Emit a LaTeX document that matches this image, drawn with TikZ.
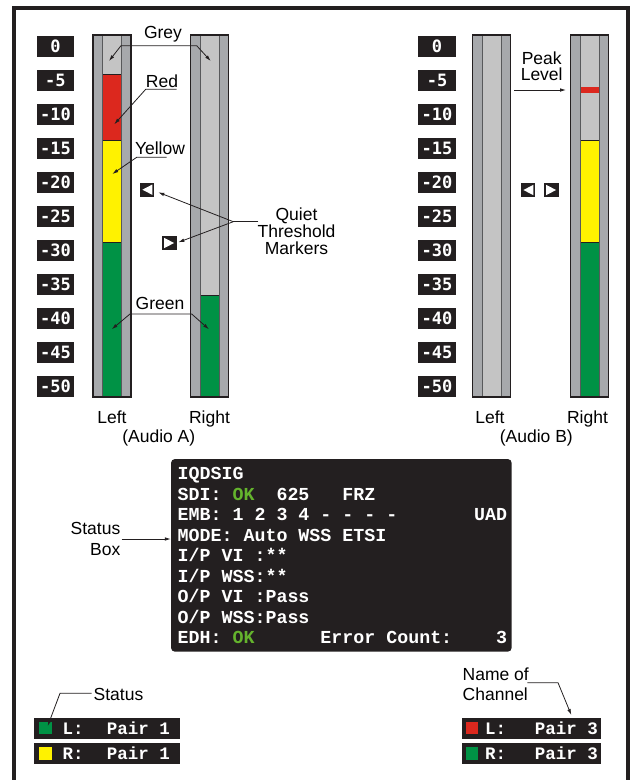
\documentclass[tikz,border=0pt]{standalone}
\usepackage{fontspec}
\setmainfont{Liberation Sans}
\newfontfamily\courfont{Liberation Mono}
\newfontfamily\dvmono{DejaVu Sans Mono}
\usetikzlibrary{arrows.meta}
\definecolor{mgrey}{HTML}{A7A9AC}
\definecolor{lgrey}{HTML}{C4C4C4}
\definecolor{mred}{HTML}{DC281E}
\definecolor{myellow}{HTML}{FFF200}
\definecolor{mgreen}{HTML}{009245}
\definecolor{boxblack}{HTML}{231F20}
\definecolor{okgreen}{HTML}{64B42D}
\definecolor{innerline}{HTML}{58595B}
\newcommand{\ms}{\hspace*{0.6em}}
\tikzset{
  lbl/.style={font=\fontsize{17.5}{17}\selectfont, inner sep=0pt, anchor=base},
  lead/.style={draw=boxblack, line width=0.8pt},
  arr/.style={lead, -{Latex[length=6pt,width=3.6pt]}},
  arrboth/.style={lead, {Latex[length=6pt,width=3.6pt]}-{Latex[length=6pt,width=3.6pt]}},
  scalelbl/.style={fill=boxblack, text=white, minimum width=37.3pt, minimum height=20.7pt,
    inner sep=0pt, text height=12.4pt, text depth=0pt,
    font=\dvmono\bfseries\fontsize{17}{17}\selectfont},
  statline/.style={anchor=base west, inner sep=0pt, text=white,
    font=\courfont\bfseries\fontsize{18.3}{18.3}\selectfont},
  chiptxt/.style={inner sep=0pt, text=white,
    font=\courfont\bfseries\fontsize{17.5}{17.5}\selectfont},
  chipbox/.style={fill=boxblack, inner sep=0pt, minimum height=21pt},
  segment/.style={draw=boxblack, line width=0.6pt},
}
\newcommand{\markerleft}[2]{%
  \fill[boxblack] (#1-7.2,#2-7) rectangle (#1+7.2,#2+7);
  \fill[white] (#1-4.6,#2) -- (#1+5.4,#2-5.2) -- (#1+5.4,#2+5.2) -- cycle;}
\newcommand{\markerright}[2]{%
  \fill[boxblack] (#1-7.2,#2-7) rectangle (#1+7.2,#2+7);
  \fill[white] (#1+4.6,#2) -- (#1-5.4,#2-5.2) -- (#1-5.4,#2+5.2) -- cycle;}
\begin{document}
\begin{tikzpicture}[x=1pt,y=-1pt]
\useasboundingbox (0,0) rectangle (634,780);
\fill[white] (0,0) rectangle (634,780);
% outer frame
\draw[line width=4.3pt, boxblack, line join=miter] (13.8,782) -- (13.8,8) -- (627.9,8) -- (627.9,782);

% scale labels
\foreach \v [count=\i from 0] in {0,-5,-10,-15,-20,-25,-30,-35,-40,-45,-50} {
  \node[scalelbl] (sa\i) at (55.4,{46.4+34*\i}) {\v};
  \node[scalelbl] (sb\i) at (437,{46.4+34*\i}) {\v};
}

% meters: body
\foreach \mx in {93,190.7,472.7,570.7} {
  \fill[mgrey] (\mx,35) rectangle ({\mx+38},397);
  \fill[lgrey] ({\mx+9.5},35) rectangle ({\mx+28.5},397);
}
% coloured segments
\filldraw[segment, fill=mred] (102.5,74.7) rectangle (121.5,140.7);
\filldraw[segment, fill=myellow] (102.5,140.7) rectangle (121.5,242.3);
\filldraw[segment, fill=mgreen] (102.5,242.3) rectangle (121.5,397);
\filldraw[segment, fill=mgreen] (200.2,295.3) rectangle (219.2,397);
\filldraw[segment, fill=mred, draw=none] (580.2,87.3) rectangle (599.2,93.3);
\filldraw[segment, fill=myellow] (580.2,140.7) rectangle (599.2,242.3);
\filldraw[segment, fill=mgreen] (580.2,242.3) rectangle (599.2,397);
% inner lines and outline
\foreach \mx in {93,190.7,472.7,570.7} {
  \draw[innerline, line width=0.9pt] ({\mx+9.5},36) -- ({\mx+9.5},396)
                                      ({\mx+28.5},36) -- ({\mx+28.5},396);
  \draw[boxblack, line width=1.4pt] (\mx,35) rectangle ({\mx+38},397);
}

% quiet threshold markers
\markerleft{147}{189.7}
\markerright{169.5}{243}
\markerleft{528}{190}
\markerright{551.5}{190}

% labels
\node[lbl] (grey) at (163,38.3) {Grey};
\node[lbl] (red) at (162,87.3) {Red};
\node[lbl] (yellow) at (160,154.3) {Yellow};
\node[lbl] (quiet1) at (296.5,220.3) {Quiet};
\node[lbl] (quiet2) at (296.5,237.3) {Threshold};
\node[lbl] (quiet3) at (296.5,254.3) {Markers};
\node[lbl] (green) at (160,309.3) {Green};
\node[lbl] (leftA) at (112,423.3) {Left};
\node[lbl] (rightA) at (209.5,423.3) {Right};
\node[lbl] (audioA) at (158.8,442.7) {(Audio A)};
\node[lbl] (leftB) at (490,423.3) {Left};
\node[lbl] (rightB) at (587.5,423.3) {Right};
\node[lbl] (audioB) at (536.3,442.7) {(Audio B)};
\node[lbl] (peak1) at (541.7,64.3) {Peak};
\node[lbl] (peak2) at (541.7,80.7) {Level};
\node[lbl, anchor=base east] (sbox1) at (120.5,534.3) {Status};
\node[lbl, anchor=base east] (sbox2) at (120.5,555) {Box};
\node[lbl, anchor=base west] (status) at (93.5,700) {Status};
\node[lbl, anchor=base west] (chname1) at (462.5,680) {Name of};
\node[lbl, anchor=base west] (chname2) at (462.5,700.7) {Channel};

% leader lines
\coordinate (gL) at (109,61);
\coordinate (gA) at (121,45.7);
\coordinate (gB) at (196.7,45.7);
\coordinate (gR) at (210.7,61);
\draw[arrboth] (gL) -- (gA) -- (gB) -- (gR);
\coordinate (rA) at (176.7,89.3);
\coordinate (rB) at (145.7,89.3);
\coordinate (rT) at (114.3,124.3);
\draw[arr] (rA) -- (rB) -- (rT);
\coordinate (yA) at (166.7,157.3);
\coordinate (yB) at (136.7,157.3);
\coordinate (yT) at (112.3,174);
\draw[arr] (yA) -- (yB) -- (yT);
\coordinate (qA) at (258.3,221.7);
\coordinate (qB) at (233.3,221.7);
\coordinate (qT1) at (158.3,192.3);
\coordinate (qT2) at (178.3,242.3);
\draw[lead] (qA) -- (qB);
\draw[arr] (qB) -- (qT1);
\draw[arr] (qB) -- (qT2);
\coordinate (nL) at (111.7,329.3);
\coordinate (nA) at (130,314);
\coordinate (nB) at (191.7,314);
\coordinate (nR) at (209,329.3);
\draw[arrboth] (nL) -- (nA) -- (nB) -- (nR);
\coordinate (pA) at (514.3,90);
\coordinate (pT) at (566,90);
\draw[arr] (pA) -- (pT);

% status box
\node[fill=boxblack, rounded corners=4pt, minimum width=340.7pt, minimum height=192.7pt, inner sep=0pt]
  (statusbox) at (341.35,555.35) {};
\node[statline] (s1) at (177.5,479.5) {IQDSIG};
\node[statline] (s2) at (177.5,500) {SDI:\ms\textcolor{okgreen}{OK}\ms\ms625\ms\ms\ms FRZ};
\node[statline] (s3) at (177.5,520.5) {EMB:\ms1\ms2\ms3\ms4\ms-\ms-\ms-\ms-\ms\ms\ms\ms\ms\ms\ms UAD};
\node[statline] (s4) at (177.5,541) {MODE:\ms Auto\ms WSS\ms ETSI};
\node[statline] (s5) at (177.5,561.5) {I/P\ms VI\ms:**};
\node[statline] (s6) at (177.5,582) {I/P\ms WSS:**};
\node[statline] (s7) at (177.5,602.5) {O/P\ms VI\ms:Pass};
\node[statline] (s8) at (177.5,623) {O/P\ms WSS:Pass};
\node[statline] (s9) at (177.5,643.5) {EDH:\ms\textcolor{okgreen}{OK}\ms\ms\ms\ms\ms\ms Error\ms Count:\ms\ms\ms\ms3};
\coordinate (sbA) at (121.7,539);
\draw[arr] (sbA) -- (statusbox.west |- sbA);

% channel chips
\node[chipbox, minimum width=145.7pt] (chipL1) at (107.15,728) {};
\node[chipbox, minimum width=145.7pt] (chipL2) at (107.15,753.6) {};
\node[chipbox, minimum width=138.4pt] (chipR1) at (531.5,728) {};
\node[chipbox, minimum width=138.4pt] (chipR2) at (531.5,753.6) {};
\fill[mgreen] (39,721.7) rectangle (51.7,734.3);
\fill[myellow] (39,747.3) rectangle (51.7,760);
\fill[mred] (465.7,721.7) rectangle (478.3,734.3);
\fill[mgreen] (465.7,747.3) rectangle (478.3,760);
\node[chiptxt, anchor=base west] (cl1a) at (62.4,734) {L:};
\node[chiptxt, anchor=base east] (cl1b) at (170,734) {Pair 1};
\node[chiptxt, anchor=base west] (cl2a) at (62.4,759.5) {R:};
\node[chiptxt, anchor=base east] (cl2b) at (170,759.5) {Pair 1};
\node[chiptxt, anchor=base west] (cr1a) at (484.8,734) {L:};
\node[chiptxt, anchor=base east] (cr1b) at (598,734) {Pair 3};
\node[chiptxt, anchor=base west] (cr2a) at (484.8,759.5) {R:};
\node[chiptxt, anchor=base east] (cr2b) at (598,759.5) {Pair 3};

% chip leaders
\coordinate (stA) at (91.7,693.3);
\coordinate (stB) at (60,693.3);
\coordinate (stT) at (47.7,726);
\draw[arr] (stA) -- (stB) -- (stT);
\coordinate (cnA) at (527.3,682.7);
\coordinate (cnB) at (558,682.7);
\coordinate (cnT) at (571.3,715);
\draw[arr] (cnA) -- (cnB) -- (cnT);
\end{tikzpicture}
\end{document}
